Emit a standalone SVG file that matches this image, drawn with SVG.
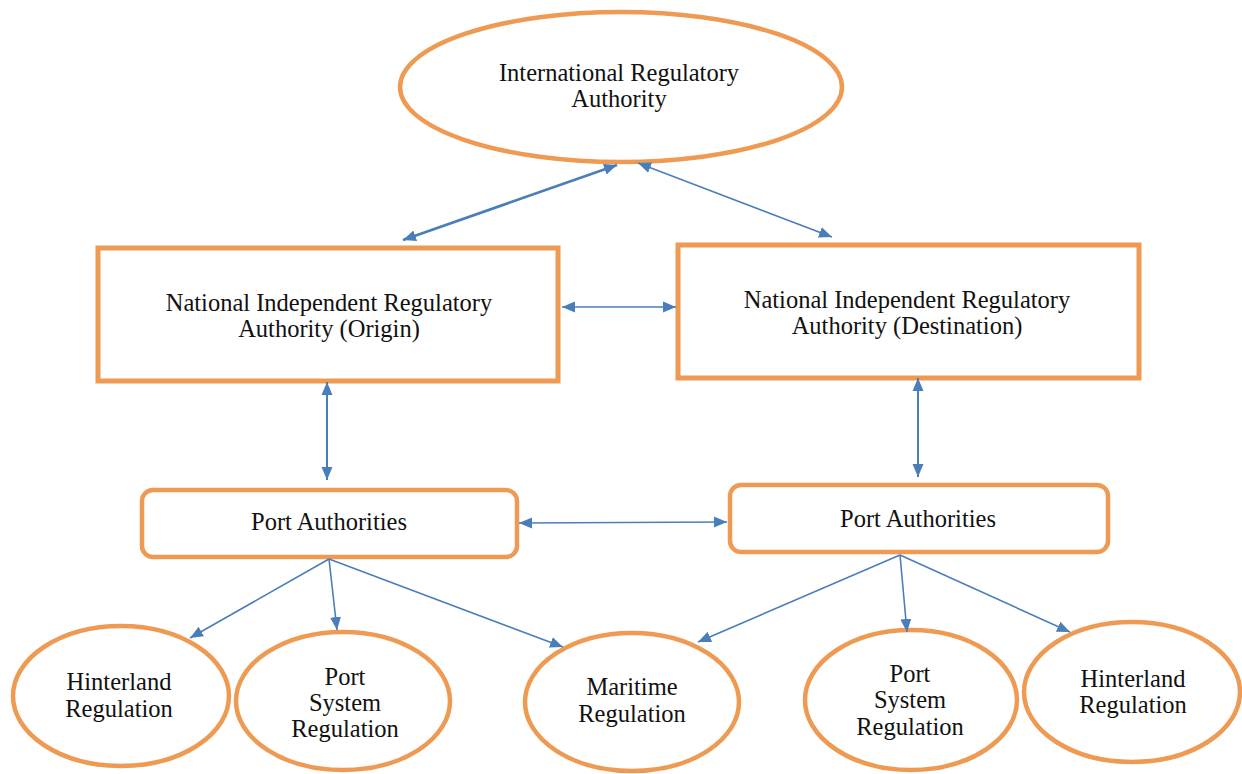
<svg xmlns="http://www.w3.org/2000/svg" width="1242" height="774" viewBox="0 0 1242 774">
  <style>
    .shape { fill: #ffffff; stroke: #EE9A52; stroke-width: 4.5; }
    .box { fill: #ffffff; stroke: #EE9A52; stroke-width: 5; }
    .lbl { font-family: "Liberation Serif", "Times New Roman", serif; font-size: 24.5px; fill: #111111; text-anchor: middle; }
    .link { stroke: #4A7EBB; stroke-width: 1.6; fill: none; marker-end: url(#head); }
    .both { marker-start: url(#head); }
    .thick { stroke-width: 2.6; }
    .mid { stroke-width: 2; }
  </style>
  <defs>
    <marker id="head" viewBox="0 0 13 12" refX="13" refY="6" markerWidth="13" markerHeight="12" markerUnits="userSpaceOnUse" orient="auto-start-reverse">
      <path d="M0,0.5 L13,6 L0,11.5 z" fill="#4A7EBB"/>
    </marker>
  </defs>

  <rect width="1242" height="774" fill="#ffffff"/>

  <!-- top level -->
  <g id="international">
    <ellipse class="shape" cx="621" cy="87" rx="221" ry="75"/>
    <text class="lbl" x="619" y="81">International Regulatory</text>
    <text class="lbl" x="619" y="107">Authority</text>
  </g>

  <!-- national regulators -->
  <g id="national-origin">
    <rect class="box" x="98" y="248" width="460" height="133"/>
    <text class="lbl" x="329" y="311">National Independent Regulatory</text>
    <text class="lbl" x="329" y="337">Authority (Origin)</text>
  </g>
  <g id="national-destination">
    <rect class="box" x="678" y="245" width="461" height="133"/>
    <text class="lbl" x="907" y="308">National Independent Regulatory</text>
    <text class="lbl" x="907" y="334">Authority (Destination)</text>
  </g>

  <!-- port authorities -->
  <g id="port-origin">
    <rect class="shape" x="142" y="490" width="375" height="67" rx="11" ry="11"/>
    <text class="lbl" x="329" y="530">Port Authorities</text>
  </g>
  <g id="port-destination">
    <rect class="shape" x="730" y="485" width="378" height="67" rx="11" ry="11"/>
    <text class="lbl" x="918" y="527">Port Authorities</text>
  </g>

  <!-- regulation domains -->
  <g id="hinterland-origin">
    <ellipse class="shape" cx="121" cy="696" rx="108" ry="70"/>
    <text class="lbl" x="119" y="690">Hinterland</text>
    <text class="lbl" x="119" y="717">Regulation</text>
  </g>
  <g id="port-system-origin">
    <ellipse class="shape" cx="343" cy="701" rx="107" ry="69"/>
    <text class="lbl" x="345" y="685">Port</text>
    <text class="lbl" x="345" y="711">System</text>
    <text class="lbl" x="345" y="737">Regulation</text>
  </g>
  <g id="maritime">
    <ellipse class="shape" cx="632" cy="702" rx="107" ry="69"/>
    <text class="lbl" x="632" y="695">Maritime</text>
    <text class="lbl" x="632" y="722">Regulation</text>
  </g>
  <g id="port-system-destination">
    <ellipse class="shape" cx="911" cy="700" rx="106" ry="70"/>
    <text class="lbl" x="910" y="682">Port</text>
    <text class="lbl" x="910" y="708">System</text>
    <text class="lbl" x="910" y="735">Regulation</text>
  </g>
  <g id="hinterland-destination">
    <ellipse class="shape" cx="1132" cy="692" rx="108" ry="70"/>
    <text class="lbl" x="1133" y="687">Hinterland</text>
    <text class="lbl" x="1133" y="713">Regulation</text>
  </g>

  <!-- connectors -->
  <g id="connectors">
    <line class="link both thick" x1="403" y1="240" x2="617" y2="165"/>
    <line class="link both" x1="638" y1="163" x2="832" y2="237"/>
    <line class="link both" x1="562" y1="307" x2="676" y2="307"/>
    <line class="link both mid" x1="327" y1="382" x2="327" y2="480"/>
    <line class="link both mid" x1="918" y1="378" x2="918" y2="477"/>
    <line class="link both" x1="519" y1="523" x2="727" y2="522"/>
    <line class="link" x1="329" y1="559" x2="190" y2="638"/>
    <line class="link" x1="329" y1="559" x2="337" y2="630"/>
    <line class="link" x1="329" y1="559" x2="563" y2="647"/>
    <line class="link" x1="900" y1="555" x2="698" y2="642"/>
    <line class="link" x1="900" y1="555" x2="907" y2="632"/>
    <line class="link" x1="900" y1="555" x2="1070" y2="632"/>
  </g>
</svg>
